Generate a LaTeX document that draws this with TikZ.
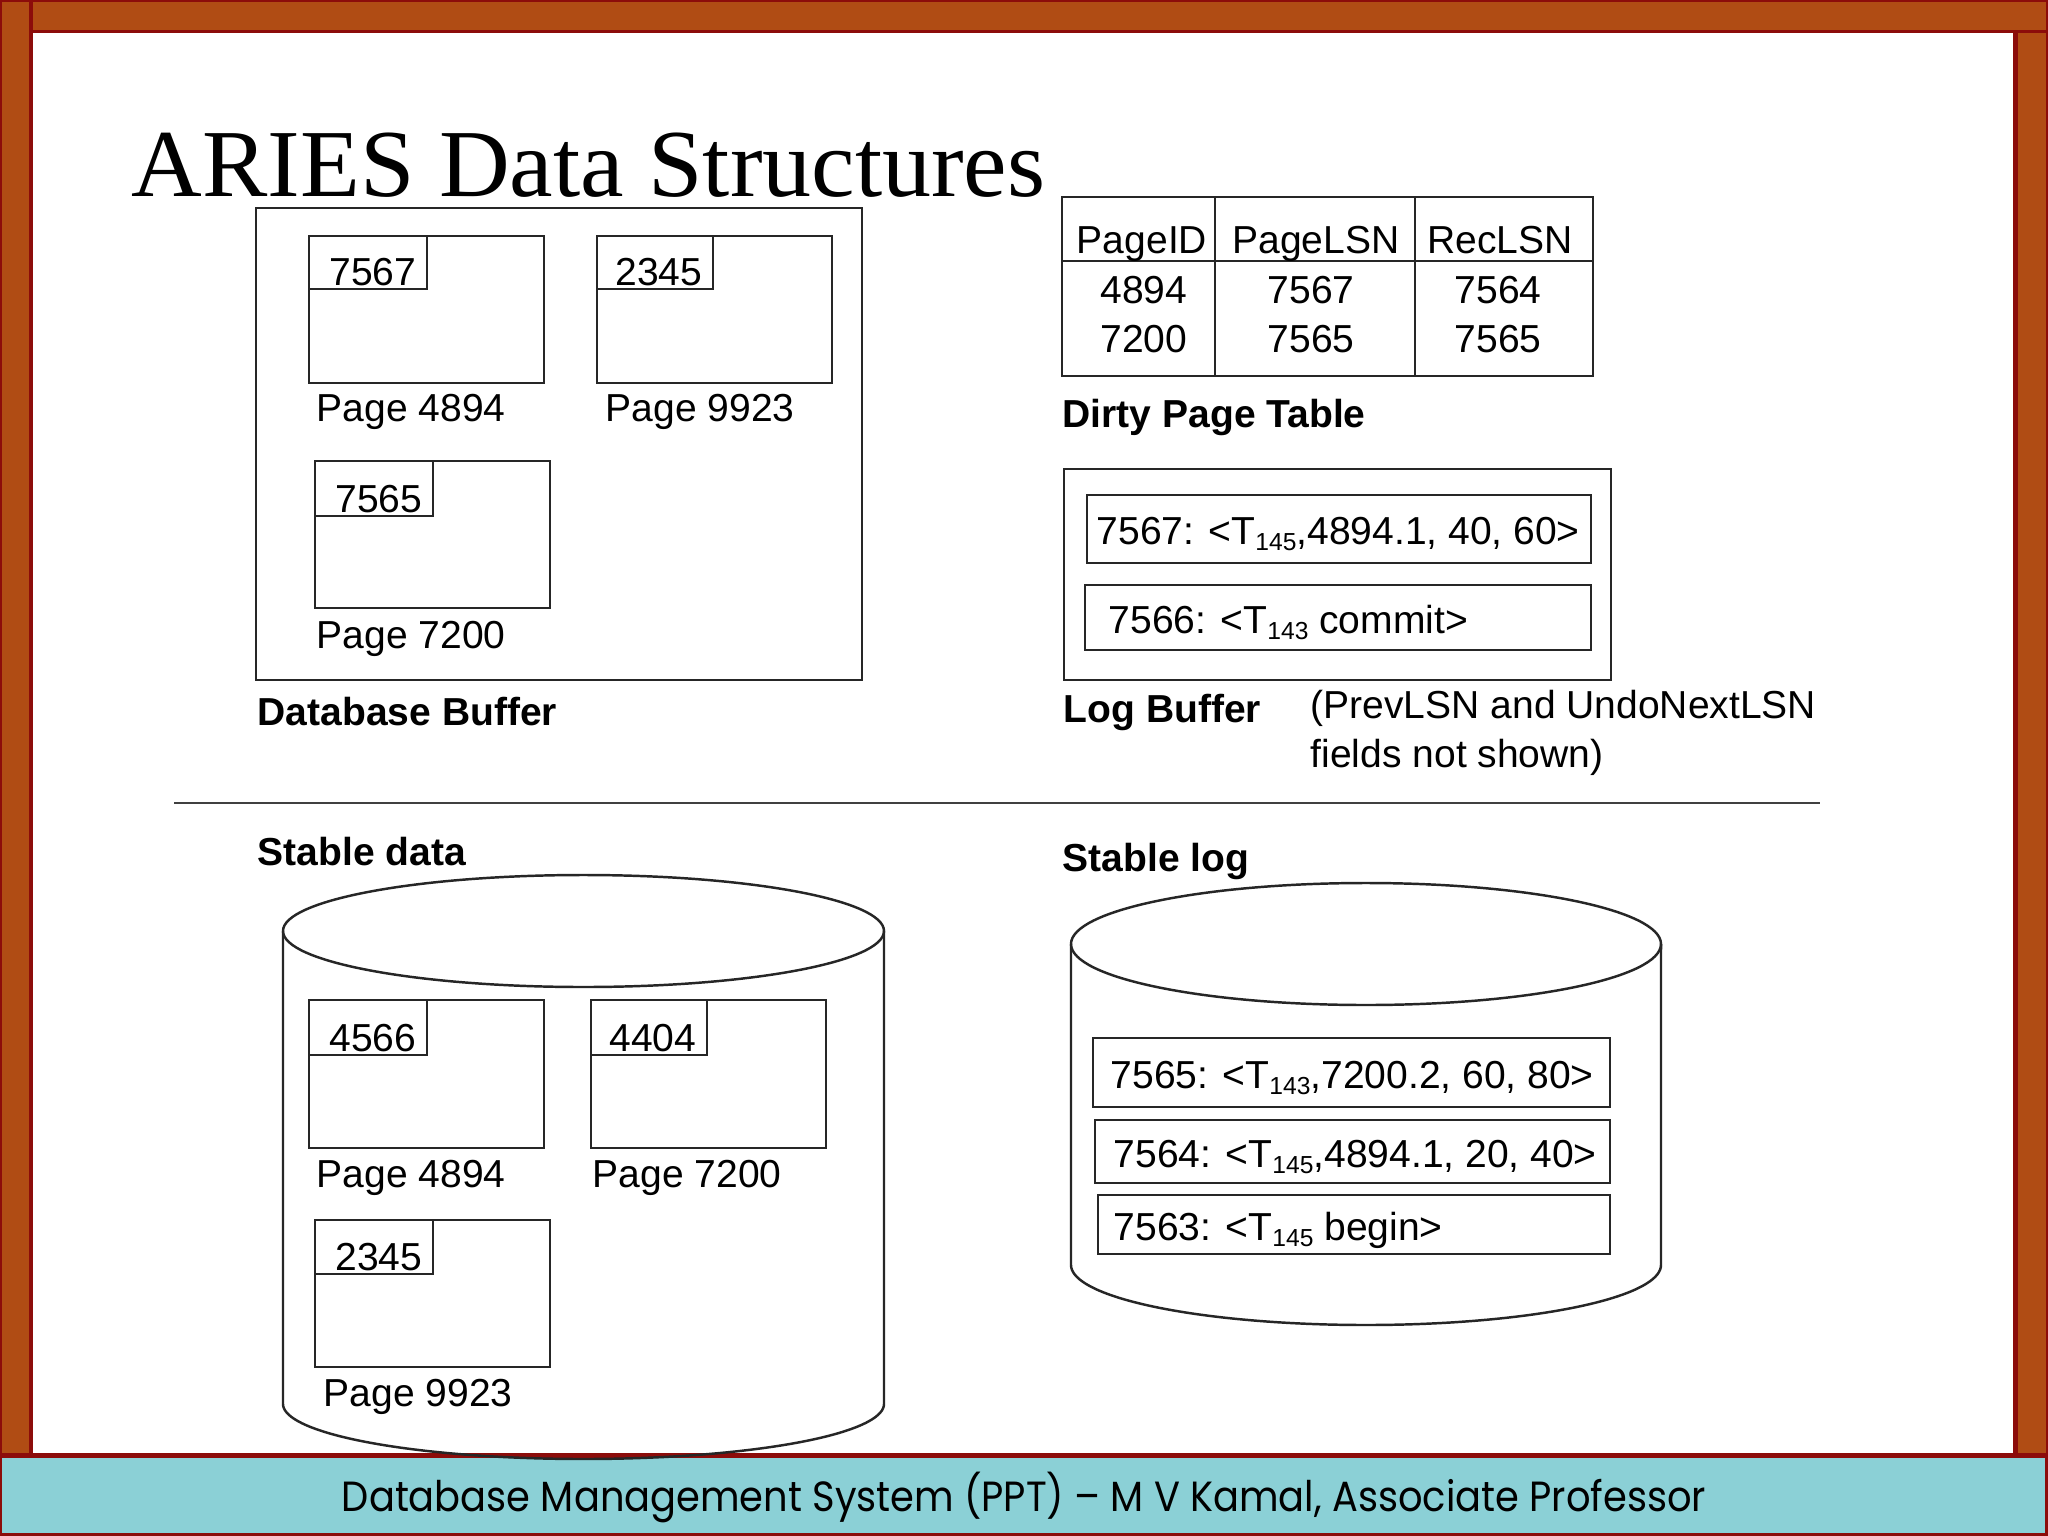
\documentclass[tikz,border=0pt]{standalone}
\usepackage{fontspec}
\setmainfont{Liberation Sans}
\newfontfamily\serifT{Liberation Serif}
\newfontfamily\footF{Poppins}
\definecolor{brownband}{RGB}{176,76,20}
\definecolor{darkband}{RGB}{140,12,10}
\definecolor{tealband}{RGB}{139,208,214}
\newcommand\sbs[1]{\raisebox{-1.8pt}{\fontsize{7}{8}\selectfont #1}}
\tikzset{
  ln/.style={draw=black!85, line width=0.7pt},
  lbl/.style={inner sep=0pt, anchor=base west, font=\fontsize{11.1}{13}\selectfont},
  bld/.style={inner sep=0pt, anchor=base west, font=\fontsize{11.1}{13}\selectfont\bfseries},
  lsn/.style={inner sep=0pt, anchor=base east, font=\fontsize{11.1}{13}\selectfont},
  ctr/.style={inner sep=0pt, anchor=base, font=\fontsize{11.1}{13}\selectfont},
}
\newcommand\pgbox[8]{%
  \draw[ln] (#2,#3) rectangle (#4,#5);
  \draw[ln] (#2,#7) -| (#6,#3);
  \node[lsn] (#1) at ({#6-10},{#7-4}) {#8};
}
\begin{document}
\begin{tikzpicture}[x=0.01cm,y=-0.01cm]
\useasboundingbox (0,0) rectangle (2048,1536);
% frame
\fill[darkband] (0,0) rectangle (2048,1536);
\fill[brownband] (2,2) rectangle (29,1453);
\fill[brownband] (33,2) rectangle (2046,30);
\fill[brownband] (2018,33) rectangle (2046,1453);
\fill[white] (33,33) rectangle (2013,1453);
\fill[tealband] (2,1458) rectangle (2045,1533);
% title
\node[inner sep=0pt, anchor=base west, font=\serifT\fontsize{27.3}{30}\selectfont] (title) at (131,196) {\scalebox{1.02}[1]{ARIES Data Structures}};
% database buffer
\draw[ln] (256,208) rectangle (862,680);
\pgbox{b1}{309}{236}{544}{383}{427}{289}{7567}
\node[lbl] (b1l) at (316,421) {Page 4894};
\pgbox{b2}{597}{236}{832}{383}{713}{289}{2345}
\node[lbl] (b2l) at (605,421) {Page 9923};
\pgbox{b3}{315}{461}{550}{608}{433}{516}{7565}
\node[lbl] (b3l) at (316,648) {Page 7200};
\node[bld] (dbb) at (257,725) {Database Buffer};
% dirty page table
\draw[ln] (1062,197) rectangle (1593,376);
\draw[ln] (1215,197) -- (1215,376);
\draw[ln] (1415,197) -- (1415,376);
\draw[ln] (1062,261) -- (1593,261);
\node[ctr] (h1) at (1142,253) {PageID};
\node[ctr] (h2) at (1316,253) {PageLSN};
\node[ctr] (h3) at (1500,253) {RecLSN};
\node[ctr] (r11) at (1144,303) {4894};
\node[ctr] (r12) at (1311,303) {7567};
\node[ctr] (r13) at (1498,303) {7564};
\node[ctr] (r21) at (1144,352) {7200};
\node[ctr] (r22) at (1311,352) {7565};
\node[ctr] (r23) at (1498,352) {7565};
\node[bld] (dpt) at (1062,427) {Dirty Page Table};
% log buffer
\draw[ln] (1064,469) rectangle (1611,680);
\draw[ln] (1087,495) rectangle (1591,563);
\node[lbl] (lb1) at (1096,544) {7567: <T\sbs{145},4894.1, 40, 60>};
\draw[ln] (1085,585) rectangle (1591,650);
\node[lbl] (lb2) at (1108,633) {7566: <T\sbs{143} commit>};
\node[bld] (lbt) at (1063,722) {Log Buffer};
\node[lbl] (note1) at (1310,718) {(PrevLSN and UndoNextLSN};
\node[lbl] (note2) at (1310,767) {fields not shown)};
% divider
\draw[draw=black!75, line width=0.75pt] (174,803) -- (1820,803);
% stable data
\node[bld] (sdt) at (257,865) {Stable data};
\draw[ln] (583.5,931) ellipse [x radius=300.5, y radius=56];
\draw[ln] (283,931) -- (283,1404) -- plot[domain=180:360, samples=80, smooth] ({583.5+300.5*cos(\x)},{1404-55*sin(\x)}) -- (884,931);
\pgbox{s1}{309}{1000}{544}{1148}{427}{1055}{4566}
\node[lbl] (s1l) at (316,1187) {Page 4894};
\pgbox{s2}{591}{1000}{826}{1148}{707}{1055}{4404}
\node[lbl] (s2l) at (592,1187) {Page 7200};
\pgbox{s3}{315}{1220}{550}{1367}{433}{1274}{2345}
\node[lbl] (s3l) at (323,1406) {Page 9923};
% stable log
\node[bld] (slt) at (1062,871) {Stable log};
\draw[ln] (1366,944) ellipse [x radius=295, y radius=61];
\draw[ln] (1071,944) -- (1071,1265) -- plot[domain=180:360, samples=80, smooth] ({1366+295*cos(\x)},{1265-60*sin(\x)}) -- (1661,944);
\draw[ln] (1093,1038) rectangle (1610,1107);
\node[lbl] (sl1) at (1110,1088) {7565: <T\sbs{143},7200.2, 60, 80>};
\draw[ln] (1095,1120) rectangle (1610,1183);
\node[lbl] (sl2) at (1113,1167) {7564: <T\sbs{145},4894.1, 20, 40>};
\draw[ln] (1098,1195) rectangle (1610,1254);
\node[lbl] (sl3) at (1113,1240) {7563: <T\sbs{145} begin>};
% footer
\node[inner sep=0pt, anchor=base, font=\footF\fontsize{12}{14}\selectfont] (foot) at (1024,1511) {\scalebox{0.91}[1]{Database Management System (PPT) – M V Kamal, Associate Professor}};
\end{tikzpicture}
\end{document}
